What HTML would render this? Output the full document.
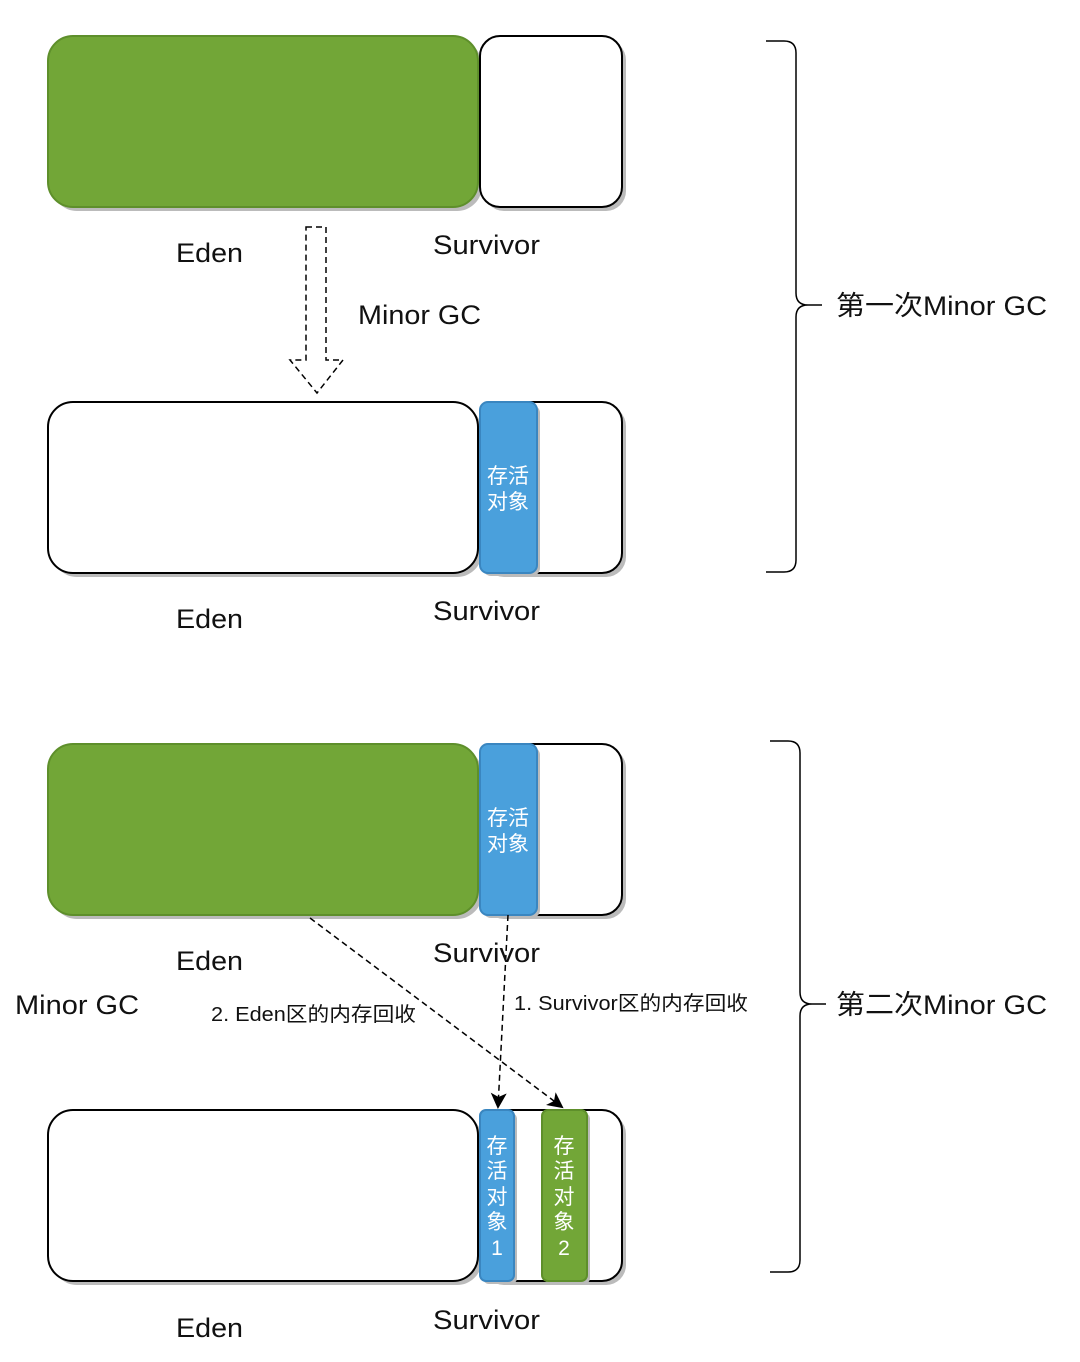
<!DOCTYPE html>
<html><head><meta charset="utf-8"><style>
body{margin:0;background:#fff}
svg text{font-family:"Liberation Sans","Noto Sans CJK SC",sans-serif}
</style></head><body>
<svg width="1080" height="1357" viewBox="0 0 1080 1357" xmlns="http://www.w3.org/2000/svg">
<defs>
<marker id="ah" markerWidth="16" markerHeight="16" refX="14" refY="8" orient="auto" markerUnits="userSpaceOnUse" viewBox="0 0 16 16">
<path d="M0,0 L16,8 L0,16 L4,8 Z" fill="#000"/></marker>
</defs>
<g stroke="#000" stroke-width="2">
<rect x="52" y="40" width="430" height="171" rx="25" fill="#bbb" stroke="none"/>
<rect x="484" y="40" width="142" height="171" rx="20" fill="#bbb" stroke="none"/>
<rect x="48" y="36" width="430" height="171" rx="25" fill="#72a637" stroke="#5e8f2b"/>
<rect x="480" y="36" width="142" height="171" rx="20" fill="#fff"/>
<rect x="52" y="406" width="430" height="171" rx="25" fill="#bbb" stroke="none"/>
<rect x="484" y="406" width="142" height="171" rx="20" fill="#bbb" stroke="none"/>
<rect x="48" y="402" width="430" height="171" rx="25" fill="#fff"/>
<rect x="480" y="402" width="142" height="171" rx="20" fill="#fff"/>
<rect x="483" y="405" width="57" height="171" rx="8" fill="#bbb" stroke="none"/>
<rect x="480" y="402" width="57" height="171" rx="8" fill="#4aa0dc" stroke="#3a86c0"/>
<rect x="52" y="748" width="430" height="171" rx="25" fill="#bbb" stroke="none"/>
<rect x="484" y="748" width="142" height="171" rx="20" fill="#bbb" stroke="none"/>
<rect x="48" y="744" width="430" height="171" rx="25" fill="#72a637" stroke="#5e8f2b"/>
<rect x="480" y="744" width="142" height="171" rx="20" fill="#fff"/>
<rect x="483" y="747" width="57" height="171" rx="8" fill="#bbb" stroke="none"/>
<rect x="480" y="744" width="57" height="171" rx="8" fill="#4aa0dc" stroke="#3a86c0"/>
<rect x="52" y="1114" width="430" height="171" rx="25" fill="#bbb" stroke="none"/>
<rect x="484" y="1114" width="142" height="171" rx="20" fill="#bbb" stroke="none"/>
<rect x="48" y="1110" width="430" height="171" rx="25" fill="#fff"/>
<rect x="480" y="1110" width="142" height="171" rx="20" fill="#fff"/>
<rect x="483" y="1113" width="34" height="171" rx="6" fill="#bbb" stroke="none"/>
<rect x="480" y="1110" width="34" height="171" rx="6" fill="#4aa0dc" stroke="#3a86c0"/>
<rect x="545" y="1113" width="45" height="171" rx="6" fill="#bbb" stroke="none"/>
<rect x="542" y="1110" width="45" height="171" rx="6" fill="#72a637" stroke="#5e8f2b"/>
</g>
<path d="M306,227 L326,227 L326,360 L343,360 L317,393 L290,360 L306,360 Z" fill="none" stroke="#000" stroke-width="1.5" stroke-dasharray="6,4"/>
<line x1="508" y1="915" x2="498" y2="1107" stroke="#000" stroke-width="1.5" stroke-dasharray="6,4" marker-end="url(#ah)"/>
<line x1="310" y1="918" x2="562" y2="1107" stroke="#000" stroke-width="1.5" stroke-dasharray="6,4" marker-end="url(#ah)"/>
<path d="M766,41 L784,41 Q796,41 796,53 L796,293 Q796,305 808,305 Q796,305 796,317 L796,560 Q796,572 784,572 L766,572" fill="none" stroke="#000" stroke-width="1.5"/>
<path d="M808,305 L822,305" stroke="#000" stroke-width="1.5"/>
<path d="M770,741 L788,741 Q800,741 800,753 L800,992 Q800,1004 812,1004 Q800,1004 800,1016 L800,1260 Q800,1272 788,1272 L770,1272" fill="none" stroke="#000" stroke-width="1.5"/>
<path d="M812,1004 L826,1004" stroke="#000" stroke-width="1.5"/>
<g font-size="27" fill="#111" lengthAdjust="spacingAndGlyphs">
<text x="176" y="262" textLength="67" lengthAdjust="spacingAndGlyphs">Eden</text><text x="433" y="254" textLength="107" lengthAdjust="spacingAndGlyphs">Survivor</text>
<text x="358" y="324" textLength="123" lengthAdjust="spacingAndGlyphs">Minor GC</text>
<text x="176" y="628" textLength="67" lengthAdjust="spacingAndGlyphs">Eden</text><text x="433" y="620" textLength="107" lengthAdjust="spacingAndGlyphs">Survivor</text>
<text x="176" y="970" textLength="67" lengthAdjust="spacingAndGlyphs">Eden</text><text x="433" y="962" textLength="107" lengthAdjust="spacingAndGlyphs">Survivor</text>
<text x="176" y="1337" textLength="67" lengthAdjust="spacingAndGlyphs">Eden</text><text x="433" y="1329" textLength="107" lengthAdjust="spacingAndGlyphs">Survivor</text>
<text x="15" y="1014" textLength="124" lengthAdjust="spacingAndGlyphs">Minor GC</text>
<text x="836" y="315" textLength="211" lengthAdjust="spacingAndGlyphs">第一次Minor GC</text>
<text x="836" y="1014" textLength="211" lengthAdjust="spacingAndGlyphs">第二次Minor GC</text>
</g>
<g font-size="20" fill="#111">
<text x="211" y="1021" textLength="205" lengthAdjust="spacingAndGlyphs">2. Eden区的内存回收</text>
<text x="514" y="1010" textLength="234" lengthAdjust="spacingAndGlyphs">1. Survivor区的内存回收</text>
</g>
<g font-size="21" fill="#fff" text-anchor="middle">
<text x="508" y="483">存活</text><text x="508" y="509">对象</text>
<text x="508" y="825">存活</text><text x="508" y="851">对象</text>
<text x="497" y="1153">存</text><text x="497" y="1178">活</text><text x="497" y="1204">对</text><text x="497" y="1229">象</text><text x="497" y="1255">1</text>
<text x="564" y="1153">存</text><text x="564" y="1178">活</text><text x="564" y="1204">对</text><text x="564" y="1229">象</text><text x="564" y="1255">2</text>
</g>
</svg>
</body></html>
